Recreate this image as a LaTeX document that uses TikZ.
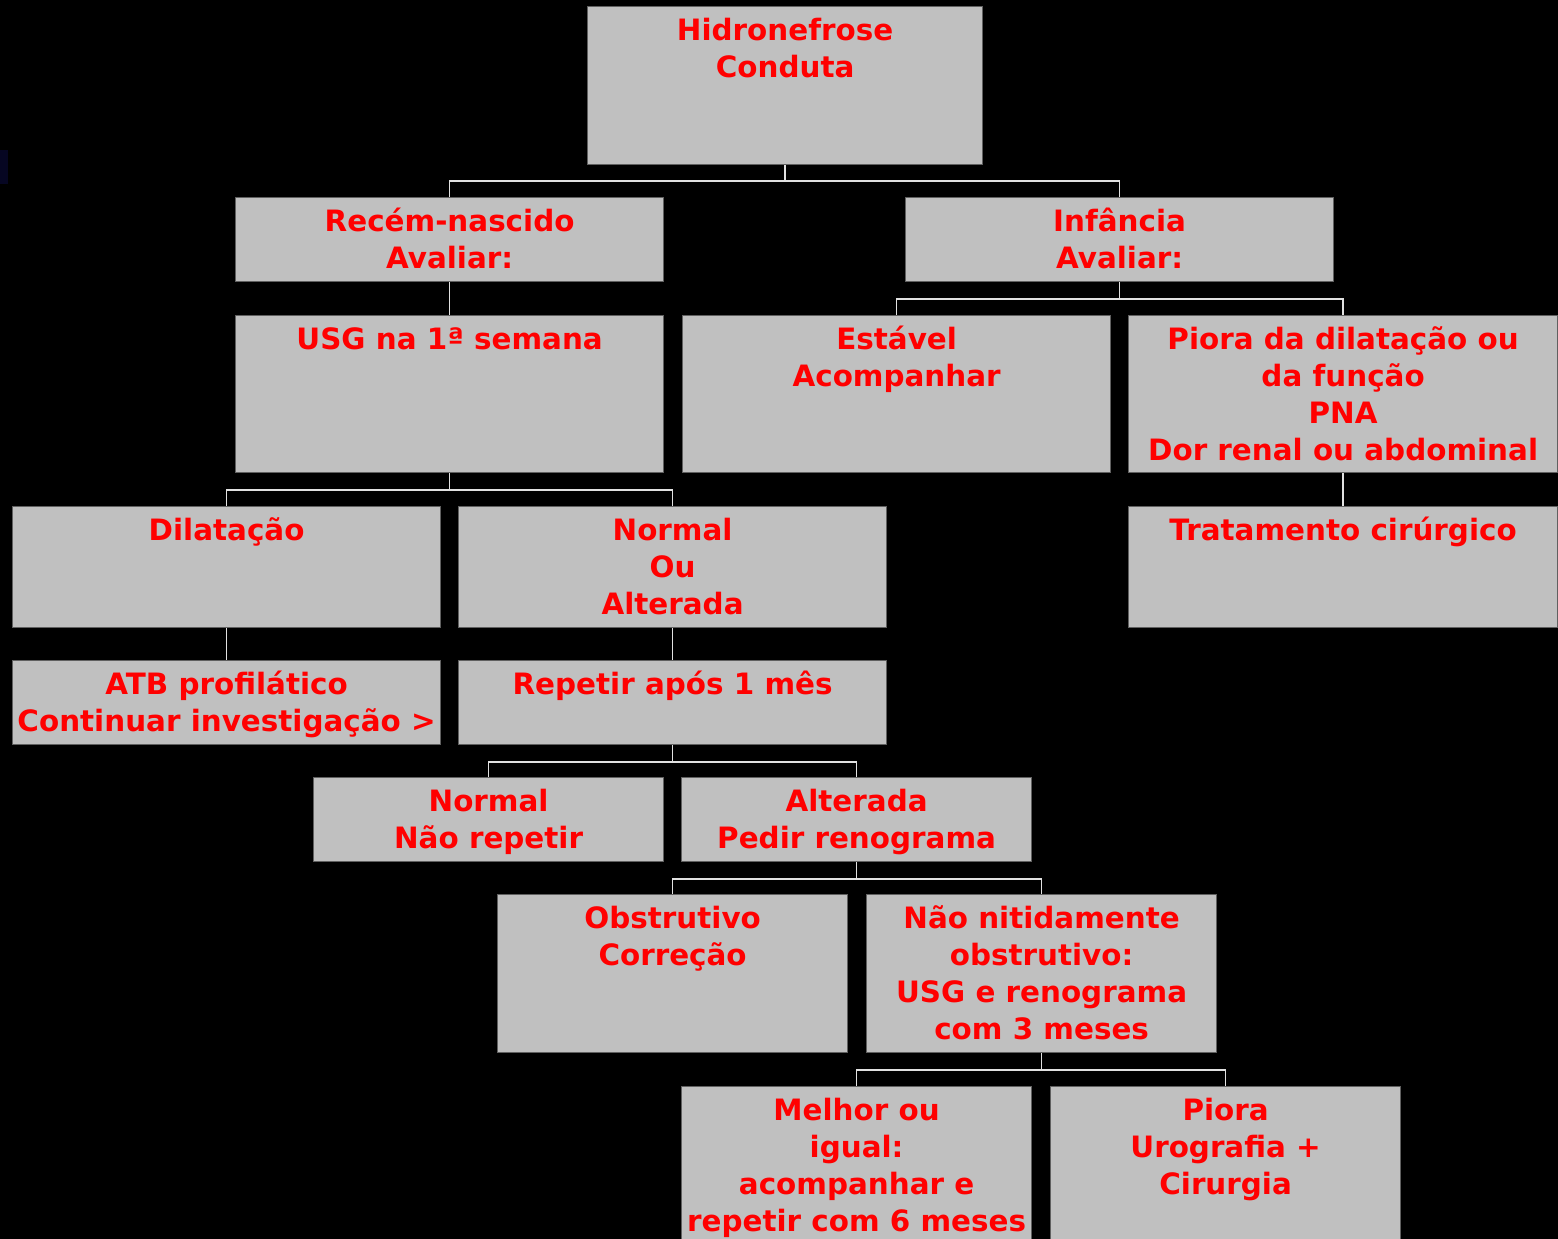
\documentclass[tikz,border=0pt]{standalone}
\usepackage{fontspec}
\setmainfont{DejaVu Sans}
\definecolor{boxfill}{RGB}{192,192,192}
\definecolor{boxline}{RGB}{96,96,96}
\definecolor{txtred}{RGB}{255,0,0}
\definecolor{connc}{RGB}{225,225,225}
\definecolor{markblue}{RGB}{6,6,34}
\tikzset{
  box/.style={draw=boxline, line width=1.2pt, fill=boxfill, rectangle, inner sep=0pt, anchor=north west},
  lbl/.style={anchor=north, inner sep=0pt, align=center, text=txtred, font=\fontsize{29.4}{37}\selectfont\bfseries, yshift=-8pt},
  conn/.style={draw=connc, line width=1.5pt}
}
\newcommand{\fs}{\rule{0pt}{26pt}}
\begin{document}
\begin{tikzpicture}[x=1pt,y=-1pt]
\fill[black] (0,0) rectangle (1558,1239);
\useasboundingbox (0,0) rectangle (1558,1239);
\fill[markblue] (0,150) rectangle (8,184);
% boxes
\node[box, minimum width=395pt, minimum height=158pt] (top) at (587,6) {};
\node[box, minimum width=428pt, minimum height=84pt] (rn) at (235,197) {};
\node[box, minimum width=428pt, minimum height=84pt] (inf) at (905,197) {};
\node[box, minimum width=428pt, minimum height=157pt] (usg) at (235,315) {};
\node[box, minimum width=428pt, minimum height=157pt] (est) at (682,315) {};
\node[box, minimum width=429pt, minimum height=157pt] (pio) at (1128,315) {};
\node[box, minimum width=428pt, minimum height=121pt] (dil) at (12,506) {};
\node[box, minimum width=428pt, minimum height=121pt] (nor) at (458,506) {};
\node[box, minimum width=429pt, minimum height=121pt] (tra) at (1128,506) {};
\node[box, minimum width=428pt, minimum height=84pt] (atb) at (12,660) {};
\node[box, minimum width=428pt, minimum height=84pt] (rep) at (458,660) {};
\node[box, minimum width=350pt, minimum height=84pt] (nnr) at (313,777) {};
\node[box, minimum width=350pt, minimum height=84pt] (alt) at (681,777) {};
\node[box, minimum width=350pt, minimum height=158pt] (obs) at (497,894) {};
\node[box, minimum width=350pt, minimum height=158pt] (nno) at (866,894) {};
\node[box, minimum width=350pt, minimum height=170pt] (mel) at (681,1086) {};
\node[box, minimum width=350pt, minimum height=170pt] (pur) at (1050,1086) {};
% texts
\node[lbl] (topt) at (top.north) {\fs Hidronefrose\\Conduta};
\node[lbl] (rnt) at (rn.north) {\fs Recém-nascido\\Avaliar:};
\node[lbl] (inft) at (inf.north) {\fs Infância\\Avaliar:};
\node[lbl] (usgt) at (usg.north) {\fs USG na 1ª semana};
\node[lbl] (estt) at (est.north) {\fs Estável\\Acompanhar};
\node[lbl] (piot) at (pio.north) {\fs Piora da dilatação ou\\da função\\PNA\\Dor renal ou abdominal};
\node[lbl] (dilt) at (dil.north) {\fs Dilatação};
\node[lbl] (nort) at (nor.north) {\fs Normal\\Ou\\Alterada};
\node[lbl] (trat) at (tra.north) {\fs Tratamento cirúrgico};
\node[lbl] (atbt) at (atb.north) {\fs ATB profilático\\Continuar investigação >};
\node[lbl] (rept) at (rep.north) {\fs Repetir após 1 mês};
\node[lbl] (nnrt) at (nnr.north) {\fs Normal\\Não repetir};
\node[lbl] (altt) at (alt.north) {\fs Alterada\\Pedir renograma};
\node[lbl] (obst) at (obs.north) {\fs Obstrutivo\\Correção};
\node[lbl] (nnot) at (nno.north) {\fs Não nitidamente\\obstrutivo:\\USG e renograma\\com 3 meses};
\node[lbl] (melt) at (mel.north) {\fs Melhor ou\\igual:\\acompanhar e\\repetir com 6 meses};
\node[lbl] (purt) at (pur.north) {\fs Piora\\Urografia +\\Cirurgia};
% connectors
\draw[conn] (top.south) -- ++(0,16) -| (rn.north);
\draw[conn] (top.south) -- ++(0,16) -| (inf.north);
\draw[conn] (rn.south) -- (usg.north);
\draw[conn] (inf.south) -- ++(0,17) -| (est.north);
\draw[conn] (inf.south) -- ++(0,17) -| (pio.north);
\draw[conn] (usg.south) -- ++(0,17) -| (dil.north);
\draw[conn] (usg.south) -- ++(0,17) -| (nor.north);
\draw[conn] (pio.south) -- (tra.north);
\draw[conn] (dil.south) -- (atb.north);
\draw[conn] (nor.south) -- (rep.north);
\draw[conn] (rep.south) -- ++(0,17) -| (nnr.north);
\draw[conn] (rep.south) -- ++(0,17) -| (alt.north);
\draw[conn] (alt.south) -- ++(0,17) -| (obs.north);
\draw[conn] (alt.south) -- ++(0,17) -| (nno.north);
\draw[conn] (nno.south) -- ++(0,17) -| (mel.north);
\draw[conn] (nno.south) -- ++(0,17) -| (pur.north);
\end{tikzpicture}
\end{document}
